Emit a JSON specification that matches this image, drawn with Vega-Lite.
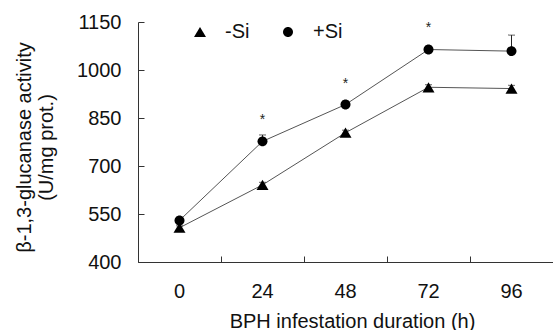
{
  "$schema": "https://vega.github.io/schema/vega-lite/v6.json",
  "width": 415,
  "height": 240,
  "autosize": {"type": "none"},
  "padding": {"left": 138, "top": 22, "right": 0, "bottom": 68},
  "background": "white",
  "config": {
    "view": {"stroke": null},
    "font": "Liberation Sans",
    "axis": {"labelFont": "Liberation Sans", "titleFont": "Liberation Sans", "labelColor": "#111", "titleColor": "#111", "domainColor": "#333", "grid": false, "titleFontWeight": "normal"}
  },
  "datasets": {
    "main": [
      {"x": "0", "series": "-Si", "y": 507, "err": 6},
      {"x": "24", "series": "-Si", "y": 641, "err": 8},
      {"x": "48", "series": "-Si", "y": 804, "err": 8},
      {"x": "72", "series": "-Si", "y": 946, "err": 8},
      {"x": "96", "series": "-Si", "y": 942, "err": 10},
      {"x": "0", "series": "+Si", "y": 530, "err": 8},
      {"x": "24", "series": "+Si", "y": 777, "err": 20},
      {"x": "48", "series": "+Si", "y": 892, "err": 10},
      {"x": "72", "series": "+Si", "y": 1064, "err": 8},
      {"x": "96", "series": "+Si", "y": 1059, "err": 50}
    ],
    "stars": [
      {"x": "24", "sy": 853, "label": "*"},
      {"x": "48", "sy": 966, "label": "*"},
      {"x": "72", "sy": 1141, "label": "*"}
    ]
  },
  "resolve": {"scale": {"x": "independent", "y": "independent"}},
  "layer": [
    {
      "data": {"name": "main"},
      "transform": [{"calculate": "datum.y + datum.err", "as": "upper"}],
      "mark": {"type": "rule", "color": "#222", "strokeWidth": 1},
      "encoding": {
        "x": {
          "field": "x", "type": "ordinal",
          "scale": {"domain": ["0", "24", "48", "72", "96"], "paddingInner": 0, "paddingOuter": 0},
          "axis": {
            "orient": "top", "offset": -240, "title": null, "labels": false, "domain": false,
            "ticks": true, "tickSize": 6, "tickBand": "extent", "tickColor": "#333", "tickWidth": 1
          }
        },
        "y": {
          "field": "y", "type": "quantitative",
          "scale": {"domain": [400, 1150], "nice": false, "zero": false},
          "axis": {
            "orient": "right", "offset": -415, "title": null, "labels": false, "domain": false,
            "values": [400, 550, 700, 850, 1000, 1150],
            "ticks": true, "tickSize": 6, "tickColor": "#333", "tickWidth": 1
          }
        },
        "y2": {"field": "upper"}
      }
    },
    {
      "layer": [
        {
          "data": {"name": "main"},
          "mark": {"type": "line", "color": "#555", "strokeWidth": 1},
          "encoding": {
            "x": {
              "field": "x", "type": "ordinal",
              "scale": {"domain": ["0", "24", "48", "72", "96"], "paddingInner": 0, "paddingOuter": 0},
              "axis": {
                "orient": "bottom",
                "title": "BPH infestation duration (h)",
                "titleFontSize": 20, "titleBaseline": "alphabetic", "titleY": 65, "titleX": 214,
                "labelAngle": 0, "labelFontSize": 20, "labelPadding": 19,
                "ticks": false, "tickSize": 0, "domainWidth": 1
              }
            },
            "y": {
              "field": "y", "type": "quantitative",
              "scale": {"domain": [400, 1150], "nice": false, "zero": false},
              "axis": {
                "orient": "left",
                "title": ["β-1,3-glucanase activity", "(U/mg prot.)"],
                "titleFontSize": 20, "titleLineHeight": 22, "titleAngle": -90,
                "titleBaseline": "top", "titleAlign": "center", "titleX": -124, "titleY": 125,
                "values": [400, 550, 700, 850, 1000, 1150], "format": "d",
                "labelFontSize": 20, "labelPadding": 17, "ticks": false, "tickSize": 0
              }
            },
            "detail": {"field": "series"}
          }
        },
        {
          "data": {"name": "main"},
          "transform": [{"calculate": "datum.y + datum.err", "as": "upper"}],
          "mark": {"type": "tick", "color": "#222", "size": 7, "thickness": 1, "orient": "horizontal"},
          "encoding": {
            "x": {"field": "x", "type": "ordinal"},
            "y": {"field": "upper", "type": "quantitative"}
          }
        },
        {
          "data": {"name": "main"},
          "mark": {"type": "point", "filled": true, "color": "black", "opacity": 1, "size": 144},
          "encoding": {
            "x": {"field": "x", "type": "ordinal"},
            "y": {"field": "y", "type": "quantitative"},
            "shape": {
              "field": "series", "type": "nominal",
              "scale": {"domain": ["-Si", "+Si"], "range": ["M-1,0.85L0,-0.85L1,0.85Z", "M0.83,0A0.83,0.83,0,1,1,-0.83,0A0.83,0.83,0,1,1,0.83,0Z"]},
              "legend": {
                "title": null, "orient": "none", "direction": "horizontal",
                "legendX": 52, "legendY": 0,
                "labelFontSize": 20, "labelFont": "Liberation Sans", "labelColor": "#111",
                "symbolSize": 144, "labelOffset": 15, "columnPadding": 28,
                "encode": {
                  "symbols": {
                    "shape": {"value": {"expr": "datum.value === '-Si' ? 'M-1.9,0H1.9M-1,0.85L0,-0.85L1,0.85Z' : 'M-1.9,0H1.9M0.83,0A0.83,0.83,0,1,1,-0.83,0A0.83,0.83,0,1,1,0.83,0Z'"}},
                    "stroke": {"value": "black"},
                    "strokeWidth": {"value": 1}
                  }
                }
              }
            }
          }
        },
        {
          "data": {"name": "stars"},
          "mark": {"type": "text", "font": "Liberation Sans", "fontSize": 14, "baseline": "middle", "dy": 3, "color": "#222"},
          "encoding": {
            "x": {"field": "x", "type": "ordinal"},
            "y": {"field": "sy", "type": "quantitative"},
            "text": {"field": "label"}
          }
        }
      ]
    }
  ]
}
